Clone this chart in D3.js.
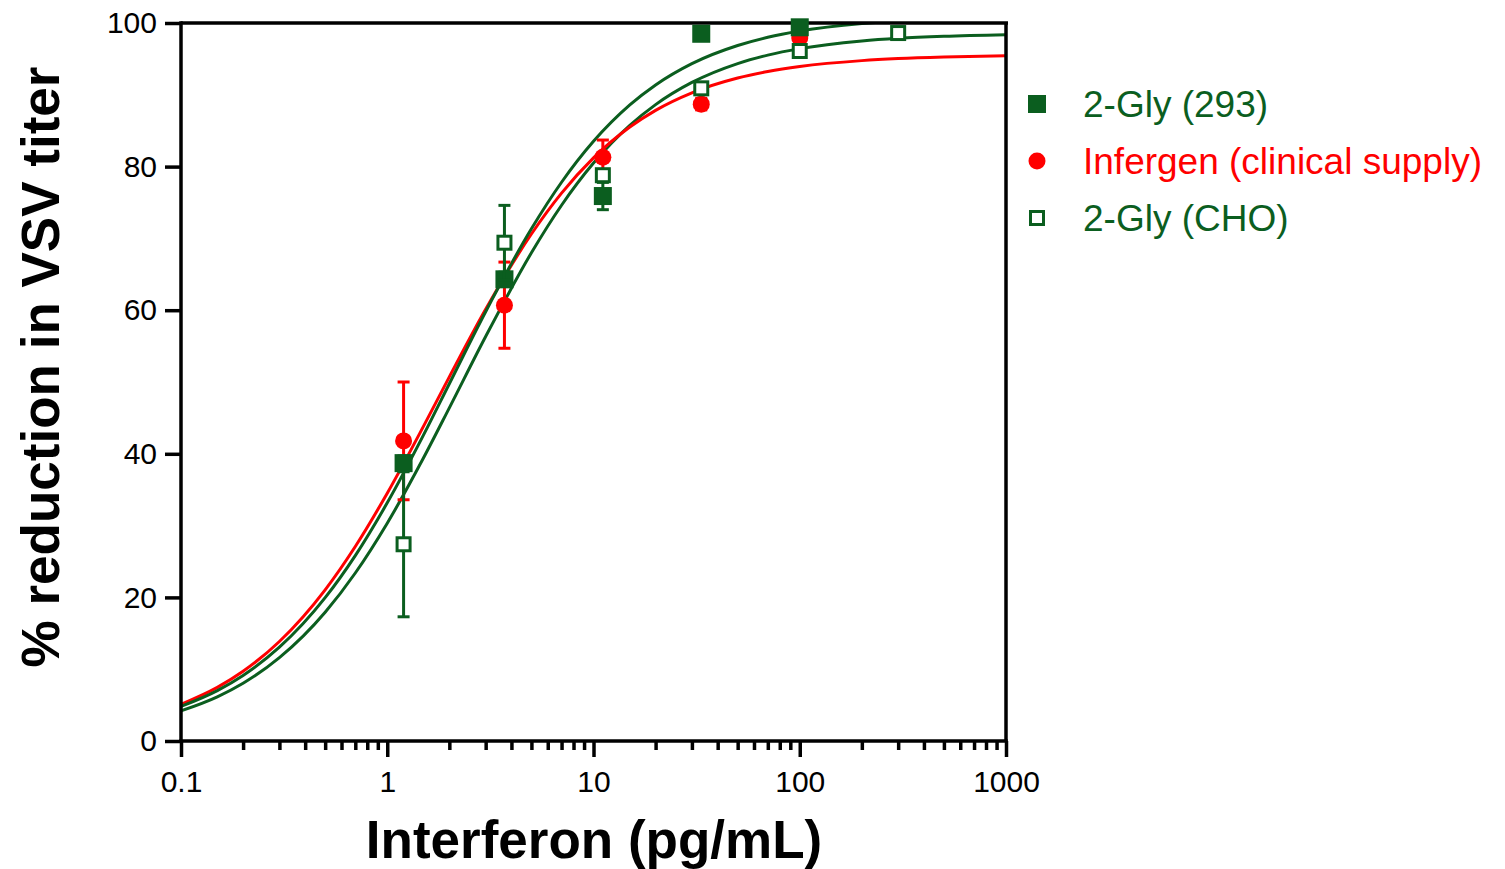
<!DOCTYPE html>
<html><head><meta charset="utf-8">
<script src="https://cdn.jsdelivr.net/npm/d3@7"></script>
<style>body{margin:0;background:#fff;} svg{display:block;}</style>
</head><body>
<svg id="c" width="1505" height="869"></svg>
<script>
// ---- data ----
const doses = [1.2, 3.7, 11.1, 33.3, 100, 300];
const gly293Values = [38.7, 64.3, 75.9, 98.5, 99.4];
const gly293Errors = [1.0, 1.0, 1.9, 0.5, 0.5];
const infergenValues = [41.8, 60.7, 81.3, 88.7, 97.9];
const infergenErrors = [8.2, 6.0, 2.4, 0.8, 0.5];
const glyCHOValues = [27.4, 69.4, 78.8, 90.9, 96.1, 98.6];
const glyCHOErrors = [10.1, 5.2, 0.5, 0.5, 0.5, 0.3];

const curveX = [0.1, 0.15, 0.2, 0.3, 0.5, 0.7, 1, 1.5, 2, 3, 5, 7, 10, 15, 20, 30, 50, 70, 100, 200, 300, 500, 1000];
const curveInfergen = [5.11, 7.47, 9.71, 13.86, 21.06, 27.09, 34.51, 43.85, 50.72, 60.13, 70.61, 76.30, 81.22, 85.51, 87.83, 90.27, 92.33, 93.24, 93.94, 94.76, 95.04, 95.26, 95.43];
const curveGly293 = [4.81, 7.02, 9.13, 13.06, 19.96, 25.82, 33.17, 42.63, 49.76, 59.79, 71.34, 77.82, 83.52, 88.59, 91.37, 94.34, 96.87, 98.01, 98.88, 99.92, 100.28, 100.5, 100.8];
const curveGlyCHO = [4.20, 6.16, 8.05, 11.60, 17.93, 23.40, 30.34, 39.44, 46.40, 56.34, 68.00, 74.62, 80.49, 85.74, 88.63, 91.72, 94.35, 95.53, 96.43, 97.50, 97.87, 98.16, 98.38];

const xMajorTicks = [0.1, 1, 10, 100, 1000];
const xTickLabels = ["0.1", "1", "10", "100", "1000"];
const yTicks = [0, 20, 40, 60, 80, 100];

const seriesNames = ["2-Gly (293)", "Infergen (clinical supply)", "2-Gly (CHO)"];

// ---- drawing ----
const GREEN = "#0b5e1f", RED = "#ff0000";
const svg = d3.select("#c");
const x = d3.scaleLog().domain([0.1, 1000]).range([181, 1006]);
const y = d3.scaleLinear().domain([0, 100]).range([741, 23]);
const FONT = "'Liberation Sans', Arial, sans-serif";

svg.append("defs").append("clipPath").attr("id", "clip")
  .append("rect").attr("x", 181).attr("y", 23).attr("width", 825).attr("height", 718);

// curves
const line = d3.line().x(d => x(d[0])).y(d => y(d[1])).curve(d3.curveMonotoneX);
const gc = svg.append("g").attr("clip-path", "url(#clip)");
[[curveGlyCHO, GREEN], [curveInfergen, RED], [curveGly293, GREEN]].forEach(([vals, col]) => {
  gc.append("path").datum(curveX.map((d, i) => [d, vals[i]]))
    .attr("d", line).attr("fill", "none").attr("stroke", col).attr("stroke-width", 3);
});

// axes
const axW = 3.5;
const xMinor = [];
for (let e = -1; e < 3; e++) for (let k = 2; k <= 9; k++) xMinor.push(k * Math.pow(10, e));

const gxMinor = svg.append("g").attr("transform", "translate(0,741)")
  .call(d3.axisBottom(x).tickValues(xMinor).tickSize(9).tickFormat(""));
const gx = svg.append("g").attr("transform", "translate(0,741)")
  .call(d3.axisBottom(x).tickValues(xMajorTicks).tickSize(16).tickPadding(14)
    .tickFormat((d, i) => xTickLabels[i]));
const gy = svg.append("g").attr("transform", "translate(181,0)")
  .call(d3.axisLeft(y).tickValues(yTicks).tickSize(16).tickPadding(8));
[gxMinor, gx, gy].forEach(g => {
  g.select(".domain").remove();
  g.selectAll("line").attr("stroke", "#000").attr("stroke-width", axW);
  g.selectAll("text").attr("font-family", FONT).attr("font-size", 30).attr("fill", "#000");
});
// axis frame lines
svg.append("line").attr("x1", 181).attr("x2", 1006).attr("y1", 741).attr("y2", 741)
  .attr("stroke", "#000").attr("stroke-width", axW).attr("stroke-linecap", "square");
svg.append("line").attr("x1", 181).attr("x2", 181).attr("y1", 23).attr("y2", 741)
  .attr("stroke", "#000").attr("stroke-width", axW).attr("stroke-linecap", "square");
svg.append("line").attr("x1", 181).attr("x2", 1008).attr("y1", 23).attr("y2", 23)
  .attr("stroke", "#000").attr("stroke-width", axW);
svg.append("line").attr("x1", 1006).attr("x2", 1006).attr("y1", 22).attr("y2", 741)
  .attr("stroke", "#000").attr("stroke-width", axW);

// points & error bars
function errBars(vals, errs, col) {
  const g = svg.append("g");
  vals.forEach((v, i) => {
    const cx = x(doses[i]);
    g.append("line").attr("x1", cx).attr("x2", cx).attr("y1", y(v - errs[i])).attr("y2", y(v + errs[i]))
      .attr("stroke", col).attr("stroke-width", 3);
    [v - errs[i], v + errs[i]].forEach(e => {
      g.append("line").attr("x1", cx - 6).attr("x2", cx + 6).attr("y1", y(e)).attr("y2", y(e))
        .attr("stroke", col).attr("stroke-width", 3);
    });
  });
}
function marker(g, kind, cx, cy) {
  if (kind === "filled") g.append("rect").attr("x", cx - 9).attr("y", cy - 9).attr("width", 18).attr("height", 18).attr("fill", GREEN);
  else if (kind === "circle") g.append("circle").attr("cx", cx).attr("cy", cy).attr("r", 8.5).attr("fill", RED);
  else g.append("rect").attr("x", cx - 6.5).attr("y", cy - 6.5).attr("width", 13).attr("height", 13)
    .attr("fill", "#fff").attr("stroke", GREEN).attr("stroke-width", 3);
}
errBars(infergenValues, infergenErrors, RED);
const gInf = svg.append("g");
infergenValues.forEach((v, i) => marker(gInf, "circle", x(doses[i]), y(v)));
errBars(gly293Values, gly293Errors, GREEN);
const g293 = svg.append("g");
gly293Values.forEach((v, i) => marker(g293, "filled", x(doses[i]), y(v)));
errBars(glyCHOValues, glyCHOErrors, GREEN);
const gCHO = svg.append("g");
glyCHOValues.forEach((v, i) => marker(gCHO, "open", x(doses[i]), y(v)));

// legend
const legKinds = ["filled", "circle", "open"];
const legCols = [GREEN, RED, GREEN];
const leg = svg.append("g");
seriesNames.forEach((n, i) => {
  const cy = 104 + i * 57;
  marker(leg, legKinds[i], 1037, cy);
  leg.append("text").attr("x", 1083).attr("y", cy + 13).attr("font-family", FONT)
    .attr("font-size", 37).attr("fill", legCols[i]).text(n);
});

// axis titles
svg.append("text").attr("x", 594).attr("y", 858).attr("text-anchor", "middle")
  .attr("font-family", FONT).attr("font-weight", "bold").attr("font-size", 53).text("Interferon (pg/mL)");
svg.append("text").attr("transform", "translate(59,367) rotate(-90)").attr("text-anchor", "middle")
  .attr("font-family", FONT).attr("font-weight", "bold").attr("font-size", 53).text("% reduction in VSV titer");
</script>
</body></html>
